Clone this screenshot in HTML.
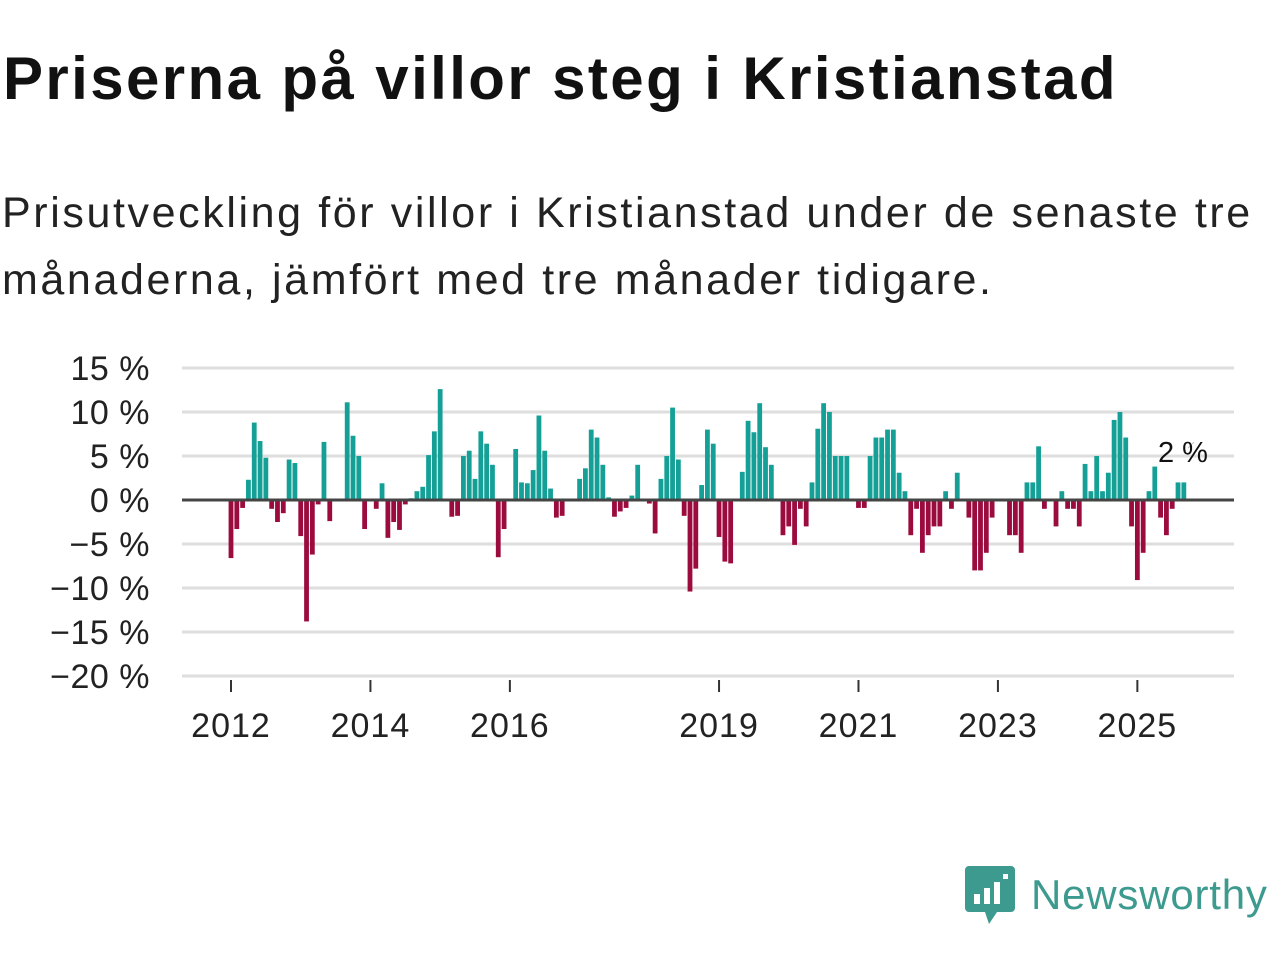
<!DOCTYPE html>
<html><head><meta charset="utf-8">
<style>
body{margin:0;width:1280px;height:960px;background:#fff;font-family:"Liberation Sans",sans-serif;color:#111;overflow:hidden;position:relative}
h1{position:absolute;left:3px;top:44px;margin:0;font-size:60px;font-weight:bold;letter-spacing:2.4px;white-space:nowrap}
.sub{position:absolute;left:2px;top:180px;margin:0;font-size:43px;line-height:67px;color:#222;letter-spacing:2.6px;white-space:nowrap}
svg{position:absolute;left:0;top:0}
.logo{position:absolute;left:965px;top:866px;display:flex;align-items:center}
.logo span{font-size:42px;color:#3d9a8e;margin-left:16px;letter-spacing:0.8px}
</style></head><body>
<h1>Priserna på villor steg i Kristianstad</h1>
<p class="sub">Prisutveckling för villor i Kristianstad under de senaste tre<br>månaderna, jämfört med tre månader tidigare.</p>
<svg id="chart" width="1280" height="960"></svg>
<div class="logo">
<svg width="50" height="58" viewBox="0 0 50 58" style="position:static">
<path d="M4 0H46a4 4 0 0 1 4 4V42a4 4 0 0 1-4 4H32L24 58L20 46H4a4 4 0 0 1-4-4V4a4 4 0 0 1 4-4z" fill="#3d9a8e"/>
<rect x="9" y="28" width="6" height="10" fill="#fff"/><rect x="19" y="22" width="6" height="16" fill="#fff"/><rect x="29" y="16" width="6" height="22" fill="#fff"/><rect x="38" y="8" width="5" height="5" fill="#fff"/></svg>
<span>Newsworthy</span></div>
<script>
const startYear = 2012;
const values = [-6.6,-3.3,-0.9,2.3,8.8,6.7,4.8,-1,-2.5,-1.5,4.6,4.2,-4.1,-13.8,-6.2,-0.5,6.6,-2.4,null,null,11.1,7.3,5,-3.3,null,-1,1.9,-4.3,-2.5,-3.4,-0.5,0.2,1,1.5,5.1,7.8,12.6,null,-1.9,-1.8,5,5.6,2.4,7.8,6.4,4,-6.5,-3.3,null,5.8,2,1.9,3.4,9.6,5.6,1.3,-2,-1.8,null,null,2.4,3.6,8,7.1,4,0.3,-1.9,-1.3,-0.9,0.5,4,null,-0.4,-3.8,2.4,5,10.5,4.6,-1.8,-10.4,-7.8,1.7,8,6.4,-4.2,-7,-7.2,null,3.2,9,7.7,11,6,4,null,-4,-3,-5.1,-1,-3,2,8.1,11,10,5,5,5,null,-0.9,-0.9,5,7.1,7.1,8,8,3.1,1,-4,-1,-6,-4,-3,-3,1,-1,3.1,null,-2,-8,-8,-6,-2,null,null,-4,-4,-6,2,2,6.1,-1,null,-3,1,-1,-1,-3,4.1,1,5,1,3.1,9.1,10,7.1,-3,-9.1,-6,1,3.8,-2,-4,-1,2,2];
const yTicks = [15,10,5,0,-5,-10,-15,-20];
const yTickLabels = ["15 %","10 %","5 %","0 %","−5 %","−10 %","−15 %","−20 %"];
const xTickYears = [2012,2014,2016,2019,2021,2023,2025];
const lastLabel = "2 %";

const NS="http://www.w3.org/2000/svg";
const svg=document.getElementById('chart');
const y=v=>500-v*8.8;
const x=i=>231+i*5.81;
function el(t,a){const e=document.createElementNS(NS,t);for(const k in a)e.setAttribute(k,a[k]);svg.appendChild(e);return e;}
yTicks.forEach((t,i)=>{
  if(t!==0){const g=el('line',{x1:182,x2:1234,y1:y(t),y2:y(t),stroke:'#dedede','stroke-width':3});
  
  }
  const l=el('text',{x:150,y:y(t)+12,'text-anchor':'end','font-size':34,fill:'#222','font-family':'Liberation Sans, sans-serif','letter-spacing':'0.5'});
  l.textContent=yTickLabels[i];
  
  
});
xTickYears.forEach(yr=>{
  const xi=x((yr-startYear)*12);
  const tk=el('line',{x1:xi,x2:xi,y1:680,y2:692,stroke:'#333','stroke-width':2});
  
  
  const l=el('text',{x:xi,y:737,'text-anchor':'middle','font-size':34,fill:'#222','font-family':'Liberation Sans, sans-serif','letter-spacing':'1'});
  l.textContent=yr;
  
  
});
values.forEach((v,i)=>{
  if(v===null)return;
  const b=el('rect',{x:x(i)-2.4,width:4.8,y:v>=0?y(v):500,height:Math.abs(v)*8.8,fill:v>=0?'#14a096':'#9b0b3e'});
  
  
});
const z=el('line',{x1:182,x2:1234,y1:500,y2:500,stroke:'#444','stroke-width':3});


const li=values.length-1;
const ld=el('line',{x1:x(li),x2:x(li)+10,y1:y(values[li])-30,y2:y(values[li])-40,stroke:'#bbb','stroke-dasharray':'3,3'});


const lab=el('text',{x:1183,y:462,'text-anchor':'middle','font-size':29,fill:'#111','font-family':'Liberation Sans, sans-serif'});
lab.textContent=lastLabel;


</script>
</body></html>
